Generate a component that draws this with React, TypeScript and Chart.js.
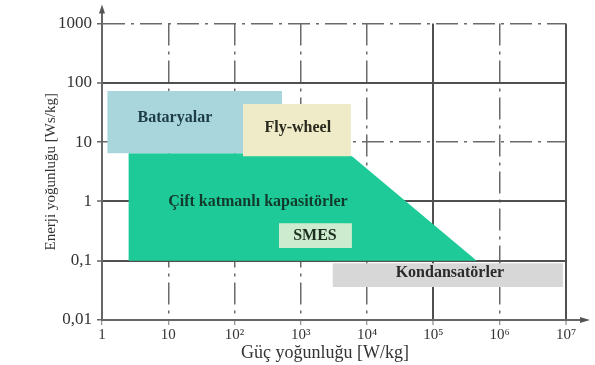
import React, { useEffect, useRef } from 'react';
import { Chart, registerables } from 'chart.js';

Chart.register(...registerables);

// Axis ticks
const xTicks = [1, 10, 100, 1e3, 1e4, 1e5, 1e6, 1e7];
const xTickLabels = ['1', '10', '10²', '10³', '10⁴', '10⁵', '10⁶', '10⁷'];
const yTicks = [0.01, 0.1, 1, 10, 100, 1000];
const yTickLabels = ['0,01', '0,1', '1', '10', '100', '1000'];
const xSolidLines = [1e5, 1e7];
const ySolidLines = [0.1, 1, 100];

// Regions (top boundary points + bottom value), power [W/kg] vs energy [Ws/kg]
const smesX = [467, 5900];
const smesY = [0.43, 0.43];
const smesBase = 0.164;

const flywheelX = [134, 5700];
const flywheelY = [44, 44];
const flywheelBase = 5.8;

const bataryaX = [1.2, 520];
const bataryaY = [73, 73];
const bataryaBase = 6.5;

const ciftX = [2.5, 5000, 6100, 4.5e5];
const ciftY = [6.5, 6.5, 5.6, 0.1];
const ciftBase = 0.1;

const kondX = [3000, 9e6];
const kondY = [0.091, 0.091];
const kondBase = 0.036;

// Region labels (in data coordinates)
const labelTexts = ['Bataryalar', 'Fly-wheel', 'Çift katmanlı kapasitörler', 'SMES', 'Kondansatörler'];
const labelX = [12.6, 900, 225, 1630, 1.77e5];
const labelY = [25.5, 17.3, 1.0, 0.26, 0.062];
const labelColors = ['#1d3c4a', '#2a2a1e', '#123a2c', '#1e2e1e', '#2a2a2a'];

const SERIF = '"Liberation Serif", "Times New Roman", serif';
const DASH_DOT = [22, 6, 3, 6];

function pts(xs: number[], ys: number[]) {
  return xs.map((x, i) => ({ x, y: ys[i] }));
}

const overlayPlugin = {
  id: 'overlay',
  afterDatasetsDraw(chart: any) {
    const { ctx, scales } = chart;
    const xs = scales.x;
    const ys = scales.y;
    ctx.save();
    ctx.font = 'bold 16px ' + SERIF;
    ctx.textAlign = 'center';
    ctx.textBaseline = 'middle';
    labelTexts.forEach((t, i) => {
      ctx.fillStyle = labelColors[i];
      ctx.fillText(t, xs.getPixelForValue(labelX[i]), ys.getPixelForValue(labelY[i]));
    });
    ctx.restore();
  },
  afterDraw(chart: any) {
    const { ctx, chartArea } = chart;
    const { left, top, right, bottom } = chartArea;
    ctx.save();
    ctx.strokeStyle = '#666';
    ctx.fillStyle = '#555';
    ctx.lineWidth = 2;
    // y axis extension + arrow
    ctx.beginPath();
    ctx.moveTo(left, top);
    ctx.lineTo(left, top - 12);
    ctx.stroke();
    ctx.beginPath();
    ctx.moveTo(left, top - 19);
    ctx.lineTo(left - 3, top - 10);
    ctx.lineTo(left + 3, top - 10);
    ctx.closePath();
    ctx.fill();
    // x axis extension + arrow
    ctx.beginPath();
    ctx.moveTo(right, bottom);
    ctx.lineTo(right + 16, bottom);
    ctx.stroke();
    ctx.beginPath();
    ctx.moveTo(right + 24, bottom);
    ctx.lineTo(right + 14, bottom - 3);
    ctx.lineTo(right + 14, bottom + 3);
    ctx.closePath();
    ctx.fill();
    ctx.restore();
  },
};

function region(label: string, xs: number[], ys: number[], base: number, color: string) {
  return {
    label,
    data: pts(xs, ys),
    backgroundColor: color,
    borderColor: color,
    borderWidth: 0,
    pointRadius: 0,
    tension: 0,
    fill: { value: base },
  };
}

export default function App() {
  const ref = useRef<HTMLCanvasElement>(null);
  useEffect(() => {
    if (!ref.current) return;
    const chart = new Chart(ref.current, {
      type: 'line',
      data: {
        datasets: [
          region('SMES', smesX, smesY, smesBase, '#cdeccf'),
          region('Fly-wheel', flywheelX, flywheelY, flywheelBase, '#efebc8'),
          region('Bataryalar', bataryaX, bataryaY, bataryaBase, '#a8d6dc'),
          region('Çift katmanlı kapasitörler', ciftX, ciftY, ciftBase, '#1ecb98'),
          region('Kondansatörler', kondX, kondY, kondBase, '#d7d7d7'),
        ] as any,
      },
      options: {
        animation: false,
        responsive: false,
        maintainAspectRatio: false,
        layout: { padding: { left: 0, right: 29, top: 23.5, bottom: 0 } },
        plugins: {
          legend: { display: false },
          tooltip: { enabled: false },
          filler: { propagate: false },
        },
        scales: {
          x: {
            type: 'logarithmic',
            min: 1,
            max: 1e7,
            afterBuildTicks: (s: any) => {
              s.ticks = xTicks.map((v) => ({ value: v }));
            },
            afterFit: (s: any) => {
              s.height = 45;
            },
            ticks: {
              callback: (_v: any, i: number) => xTickLabels[i],
              autoSkip: false,
              maxRotation: 0,
              padding: 1,
              color: '#333',
              font: { family: SERIF, size: 15 },
            },
            grid: {
              color: (c: any) => (c.tick && xSolidLines.includes(c.tick.value) ? '#505050' : '#6a6a6a'),
              lineWidth: (c: any) => (c.tick && xSolidLines.includes(c.tick.value) ? 2 : 1.5),
              tickLength: 5,
              tickColor: '#777',
              tickWidth: 1,
            },
            border: {
              color: '#666',
              width: 2,
              dash: (c: any) => (c.tick && xSolidLines.includes(c.tick.value) ? [] : DASH_DOT),
            },
            title: {
              display: true,
              text: 'Güç yoğunluğu [W/kg]\u2002\u2002',
              color: '#333',
              font: { family: SERIF, size: 18 },
              padding: { top: 0, bottom: 1 },
            },
          },
          y: {
            type: 'logarithmic',
            min: 0.01,
            max: 1000,
            afterBuildTicks: (s: any) => {
              s.ticks = yTicks.map((v) => ({ value: v }));
            },
            afterFit: (s: any) => {
              s.width = 102;
            },
            ticks: {
              callback: (_v: any, i: number) => yTickLabels[i],
              autoSkip: false,
              padding: 5,
              color: '#333',
              font: { family: SERIF, size: 17 },
            },
            grid: {
              color: (c: any) => (c.tick && ySolidLines.includes(c.tick.value) ? '#505050' : '#6a6a6a'),
              lineWidth: (c: any) => (c.tick && ySolidLines.includes(c.tick.value) ? 2 : 1.5),
              tickLength: 5,
              tickColor: '#666',
              tickWidth: 1.5,
            },
            border: {
              color: '#666',
              width: 2,
              dash: (c: any) => (c.tick && ySolidLines.includes(c.tick.value) ? [] : DASH_DOT),
            },
            title: {
              display: true,
              text: 'Enerji yoğunluğu [Ws/kg]',
              color: '#333',
              font: { family: SERIF, size: 15 },
              padding: { top: 42, bottom: 0 },
            },
          },
        },
      } as any,
      plugins: [overlayPlugin],
    });
    return () => chart.destroy();
  }, []);

  return (
    <div style={{ position: 'absolute', left: 0, top: 0, width: 595, height: 365, background: '#fff' }}>
      <canvas ref={ref} width={595} height={365} />
    </div>
  );
}
